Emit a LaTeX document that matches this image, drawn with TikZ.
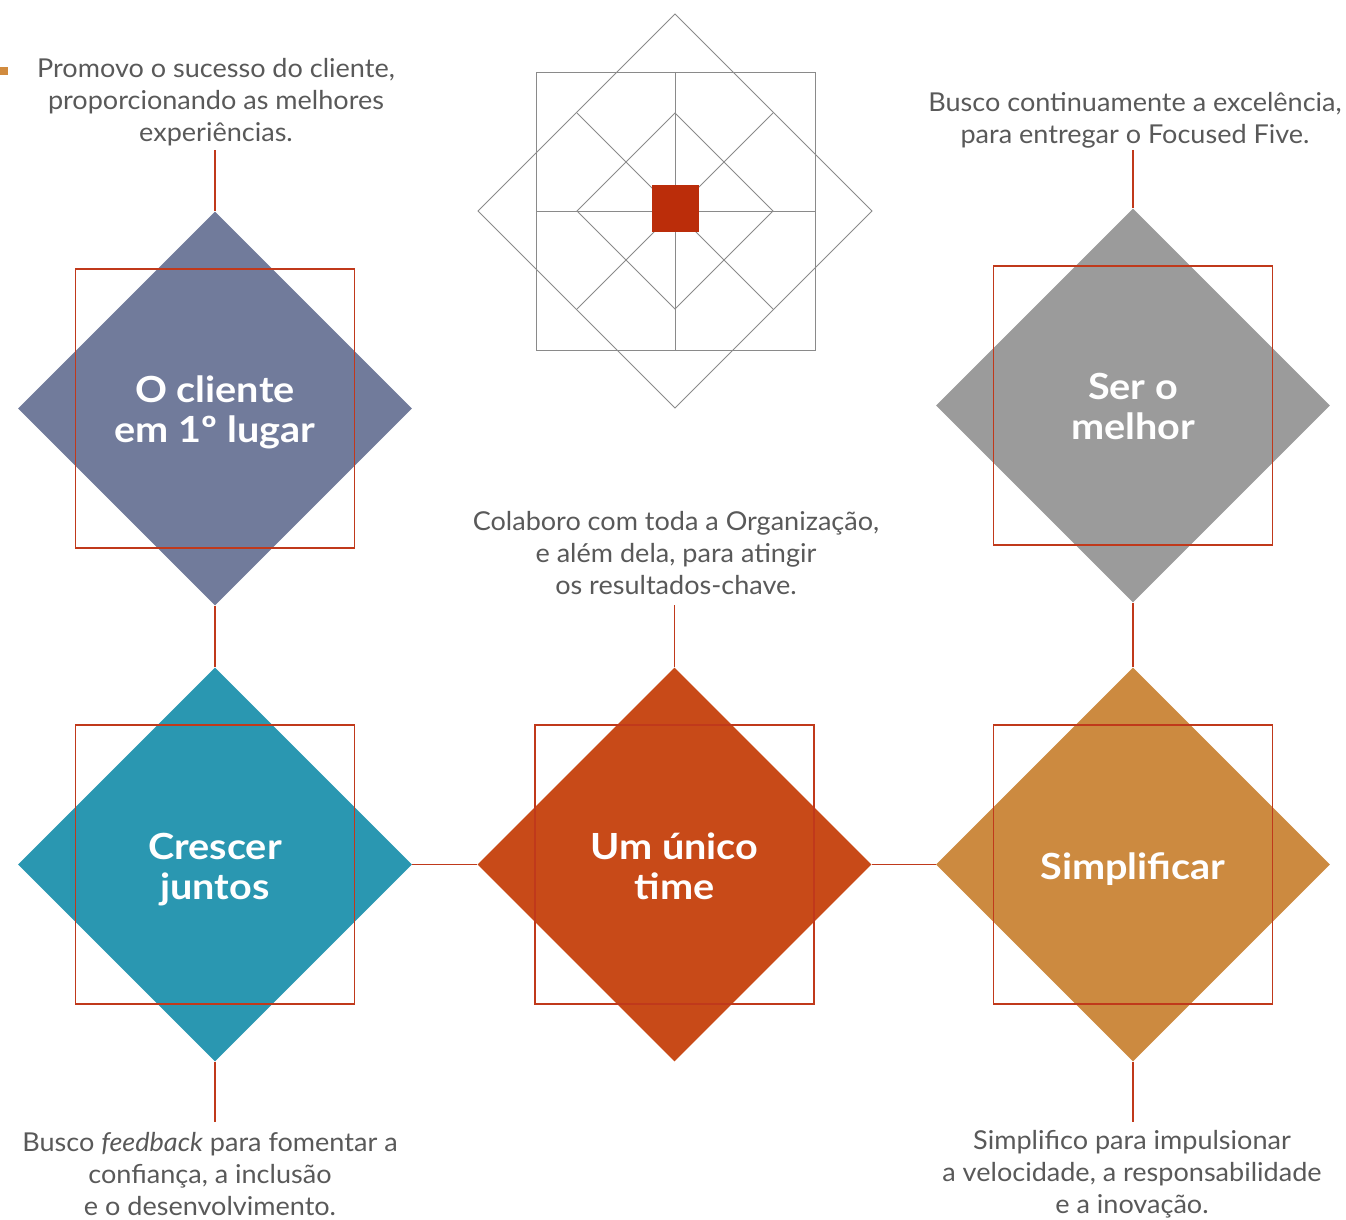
\documentclass[tikz,border=0pt]{standalone}
\usepackage{fontspec}
\setmainfont{Lato}
\newfontfamily\bodyfont[FakeStretch=1.04]{Lato}
\newfontfamily\headfont[FakeStretch=1.1]{Lato}
\usetikzlibrary{shapes.geometric}
\definecolor{txt}{HTML}{595959}
\definecolor{redl}{HTML}{C0391B}
\definecolor{cSlate}{HTML}{717B9B}
\definecolor{cGray}{HTML}{9B9B9B}
\definecolor{cTeal}{HTML}{2A97B1}
\definecolor{cRust}{HTML}{C84A18}
\definecolor{cGold}{HTML}{CC8A40}
\definecolor{cMark}{HTML}{D18B3E}
\definecolor{logoln}{HTML}{8A8A8A}
\definecolor{logored}{HTML}{BB2D0A}
\begin{document}
\begin{tikzpicture}[x=1pt,y=-1pt,
 gem/.style={diamond,aspect=1,minimum width=394pt,minimum height=394pt,inner sep=0pt},
 frame/.style={draw=redl,line width=1.3pt,minimum size=279pt,inner sep=0pt},
 link/.style={draw=redl,line width=1.3pt},
 body/.style={text=txt,font=\bodyfont\fontsize{26}{32}\selectfont,align=center,inner sep=0pt,anchor=base},
 head/.style={text=white,font=\headfont\fontsize{36}{40}\selectfont\bfseries,align=center,inner sep=0pt,anchor=base},
 logo/.style={draw=logoln,line width=0.8pt}]
\useasboundingbox (0,0) rectangle (1346,1220);
% logo
\draw[logo] (536,72) rectangle (815,350);
\draw[logo] (675,14) -- (872,211) -- (675,408) -- (478,211) -- cycle;
\draw[logo] (675,113) -- (773,211) -- (675,309) -- (577,211) -- cycle;
\draw[logo] (675,72) -- (675,350);
\draw[logo] (536,211) -- (815,211);
\draw[logo] (577,113) -- (773,309);
\draw[logo] (773,113) -- (577,309);
\fill[logored] (652,185) rectangle (699,232);
\fill[cMark] (0,67) rectangle (8,75);
% diamonds
\node[gem,fill=cSlate] (d1) at (215,408.5) {};
\node[gem,fill=cGray] (d2) at (1133,405.5) {};
\node[gem,fill=cTeal] (d3) at (215,864.5) {};
\node[gem,fill=cRust] (d4) at (674.5,864.5) {};
\node[gem,fill=cGold] (d5) at (1133,864.5) {};
% frames
\node[frame] (f1) at (d1.center) {};
\node[frame] (f2) at (d2.center) {};
\node[frame] (f3) at (d3.center) {};
\node[frame] (f4) at (d4.center) {};
\node[frame] (f5) at (d5.center) {};
% connectors
\coordinate (c1) at (215,150);
\coordinate (c2) at (1133,150);
\coordinate (c4) at (674.5,605);
\coordinate (c3) at (215,1122);
\coordinate (c5) at (1133,1122);
\draw[link] (c1) -- (d1.north);
\draw[link] (d1.south) -- (d3.north);
\draw[link] (d3.east) -- (d4.west);
\draw[link] (d4.east) -- (d5.west);
\draw[link] (d5.north) -- (d2.south);
\draw[link] (c2) -- (d2.north);
\draw[link] (c4) -- (d4.north);
\draw[link] (d3.south) -- (c3);
\draw[link] (d5.south) -- (c5);
% headings (base = last line baseline)
\node[head] (h1) at (215,442) {O cliente\\em 1º lugar};
\node[head] (h2) at (1133,439) {Ser o\\melhor};
\node[head] (h3) at (215,899) {Crescer\\juntos};
\node[head] (h4) at (674.5,899) {Um único\\time};
\node[head] (h5) at (1133,879) {Simplificar};
% texts (base = last line baseline)
\node[body] (t1) at (216,142) {Promovo o sucesso do cliente,\\proporcionando as melhores\\experiências.};
\node[body] (t2) at (1135,143) {Busco continuamente a excelência,\\para entregar o Focused Five.};
\node[body] (t4) at (676,594) {Colaboro com toda a Organização,\\e além dela, para atingir\\os resultados-chave.};
\node[body] (t3) at (210,1215) {Busco \textit{feedback} para fomentar a\\confiança, a inclusão\\e o desenvolvimento.};
\node[body] (t5) at (1132,1213) {Simplifico para impulsionar\\a velocidade, a responsabilidade\\e a inovação.};
\end{tikzpicture}
\end{document}
